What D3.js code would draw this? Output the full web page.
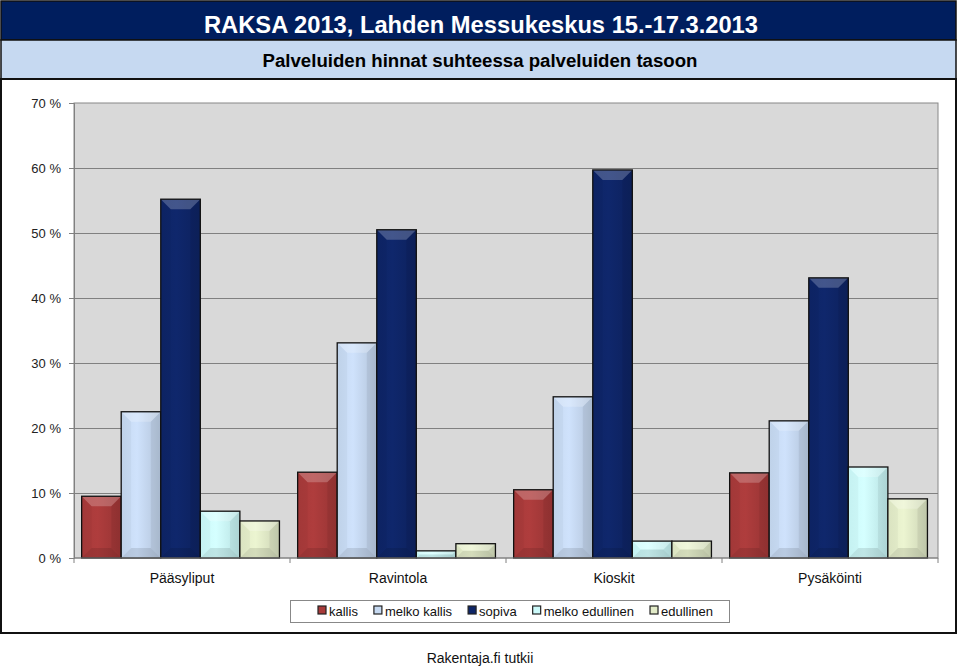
<!DOCTYPE html>
<html>
<head>
<meta charset="utf-8">
<script src="https://cdn.jsdelivr.net/npm/d3@7"></script>
<style>
  body { margin: 0; background: #fff; }
  svg { display: block; font-family: "Liberation Sans", Arial, sans-serif; }
</style>
</head>
<body>
<div id="chart"></div>
<script>
var W = 959, H = 666;

var categories = ['Pääsyliput', 'Ravintola', 'Kioskit', 'Pysäköinti'];
var seriesNames = ['kallis', 'melko kallis', 'sopiva', 'melko edullinen', 'edullinen'];
var kallis = [9.5, 13.2, 10.5, 13.1];
var melkoKallis = [22.5, 33.1, 24.8, 21.1];
var sopiva = [55.2, 50.5, 59.7, 43.1];
var melkoEdullinen = [7.2, 1.1, 2.6, 14.0];
var edullinen = [5.7, 2.2, 2.6, 9.1];
var yTicks = [0, 10, 20, 30, 40, 50, 60, 70];

var seriesValues = [kallis, melkoKallis, sopiva, melkoEdullinen, edullinen];
var colors = ['#A83A3A', '#C6D9F1', '#0E2567', '#CCFAFA', '#E2EBC8'];

var svg = d3.select('#chart').append('svg')
  .attr('width', W)
  .attr('height', H);

var defs = svg.append('defs');
colors.forEach(function(c, i) {
  var g = defs.append('linearGradient')
    .attr('id', 'grad' + i)
    .attr('x1', 0).attr('x2', 1).attr('y1', 0).attr('y2', 0);
  g.append('stop').attr('offset', '0%').attr('stop-color', c);
  g.append('stop').attr('offset', '40%').attr('stop-color', d3.color(c).brighter(0.12));
  g.append('stop').attr('offset', '100%').attr('stop-color', d3.color(c).darker(0.3));
});

// frame + header bands
svg.append('rect').attr('x', 1).attr('y', 1).attr('width', 955).attr('height', 39)
  .attr('fill', '#001E5E').attr('stroke', '#111').attr('stroke-width', 1.5);
svg.append('rect').attr('x', 1).attr('y', 40).attr('width', 955).attr('height', 39)
  .attr('fill', '#C6D9F1').attr('stroke', '#111').attr('stroke-width', 1.5);
svg.append('rect').attr('x', 1).attr('y', 79).attr('width', 955).attr('height', 554)
  .attr('fill', '#fff').attr('stroke', '#111').attr('stroke-width', 2);

svg.append('text')
  .attr('x', 481).attr('y', 33)
  .attr('text-anchor', 'middle')
  .attr('fill', '#fff')
  .attr('font-weight', 'bold')
  .attr('font-size', 24)
  .attr('textLength', 554).attr('lengthAdjust', 'spacingAndGlyphs')
  .text('RAKSA 2013, Lahden Messukeskus 15.-17.3.2013');

svg.append('text')
  .attr('x', 480).attr('y', 67)
  .attr('text-anchor', 'middle')
  .attr('fill', '#000')
  .attr('font-weight', 'bold')
  .attr('font-size', 18)
  .attr('textLength', 435).attr('lengthAdjust', 'spacingAndGlyphs')
  .text('Palveluiden hinnat suhteessa palveluiden tasoon');

// plot
var px0 = 74, px1 = 938, py0 = 103, py1 = 558;

var x = d3.scaleBand().domain(categories).range([px0, px1]).paddingInner(0).paddingOuter(0);
var xs = d3.scaleBand().domain(seriesNames).range([0, x.bandwidth()]).paddingOuter(0.23).paddingInner(0).align(0.42);
var y = d3.scaleLinear().domain([0, 70]).range([py1, py0]);

svg.append('rect').attr('x', px0).attr('y', py0).attr('width', px1 - px0).attr('height', py1 - py0)
  .attr('fill', '#D9D9D9').attr('stroke', '#888').attr('stroke-width', 1);

svg.append('g').selectAll('line').data(yTicks.slice(1, -1)).join('line')
  .attr('x1', px0).attr('x2', px1)
  .attr('y1', function(d) { return y(d) + 0.5; })
  .attr('y2', function(d) { return y(d) + 0.5; })
  .attr('stroke', '#808080').attr('stroke-width', 1);

var yAxis = svg.append('g')
  .attr('transform', 'translate(' + px0 + ',0)')
  .call(d3.axisLeft(y).tickValues(yTicks).tickSize(5).tickPadding(8)
    .tickFormat(function(d) { return d + ' %'; }));
yAxis.select('.domain').attr('stroke', '#808080');
yAxis.selectAll('.tick line').attr('stroke', '#808080');
yAxis.selectAll('text').attr('font-size', 13).attr('fill', '#222')
  .attr('font-family', '"Liberation Sans", Arial, sans-serif');

// bars
var bars = [];
categories.forEach(function(cat, ci) {
  seriesNames.forEach(function(s, si) {
    bars.push({ cat: cat, s: s, si: si, v: seriesValues[si][ci] });
  });
});

var barG = svg.append('g');
bars.forEach(function(d) {
  var bx = x(d.cat) + xs(d.s), bw = xs.bandwidth();
  var by = y(d.v), bh = y(0) - y(d.v);
  var g = barG.append('g');
  g.append('rect').attr('x', bx).attr('y', by).attr('width', bw).attr('height', bh)
    .attr('fill', 'url(#grad' + d.si + ')');
  var b = Math.min(10, bw / 2, bh / 2);
  var x0 = bx, x1 = bx + bw, y0 = by, y1 = by + bh;
  var top = [[x0, y0], [x1, y0], [x1 - b, y0 + b], [x0 + b, y0 + b]];
  var left = [[x0, y0], [x0 + b, y0 + b], [x0 + b, y1 - b], [x0, y1]];
  var right = [[x1, y0], [x1, y1], [x1 - b, y1 - b], [x1 - b, y0 + b]];
  var bottom = [[x0, y1], [x0 + b, y1 - b], [x1 - b, y1 - b], [x1, y1]];
  var faces = [[top, '#fff', 0.22], [left, '#000', 0.03], [right, '#000', 0.06], [bottom, '#000', 0.1]];
  faces.forEach(function(f) {
    g.append('polygon')
      .attr('points', f[0].map(function(p) { return p.join(','); }).join(' '))
      .attr('fill', f[1]).attr('opacity', f[2]);
  });
  g.append('rect').attr('x', bx).attr('y', by).attr('width', bw).attr('height', bh)
    .attr('fill', 'none').attr('stroke', '#111').attr('stroke-width', 1.3);
});

// x axis
var xAxis = svg.append('g')
  .attr('transform', 'translate(0,' + py1 + ')');
xAxis.append('line').attr('x1', px0).attr('x2', px1).attr('y1', 0).attr('y2', 0)
  .attr('stroke', '#808080');
var bounds = categories.map(function(c) { return x(c); }).concat([px1]);
xAxis.selectAll('line.tk').data(bounds).join('line').attr('class', 'tk')
  .attr('x1', function(d) { return d; }).attr('x2', function(d) { return d; })
  .attr('y1', 0).attr('y2', 5).attr('stroke', '#808080');
xAxis.selectAll('text').data(categories).join('text')
  .attr('x', function(d) { return x(d) + x.bandwidth() / 2; })
  .attr('y', 25)
  .attr('text-anchor', 'middle')
  .attr('font-size', 14).attr('fill', '#111')
  .text(function(d) { return d; });

// legend
var leg = svg.append('g');
leg.append('rect').attr('x', 290.5).attr('y', 600.5).attr('width', 439).attr('height', 22)
  .attr('fill', '#fff').attr('stroke', '#888');
var lx = 318;
seriesNames.forEach(function(s, i) {
  leg.append('rect').attr('x', lx).attr('y', 606).attr('width', 8).attr('height', 8)
    .attr('fill', colors[i]).attr('stroke', '#222').attr('stroke-width', 1.2);
  var t = leg.append('text').attr('x', lx + 11).attr('y', 615.5)
    .attr('font-size', 13).attr('fill', '#111').text(s);
  lx += 11 + t.node().getComputedTextLength() + 16;
});

svg.append('text').attr('x', 480).attr('y', 663)
  .attr('text-anchor', 'middle').attr('font-size', 14).attr('fill', '#111')
  .text('Rakentaja.fi tutkii');
</script>
</body>
</html>
